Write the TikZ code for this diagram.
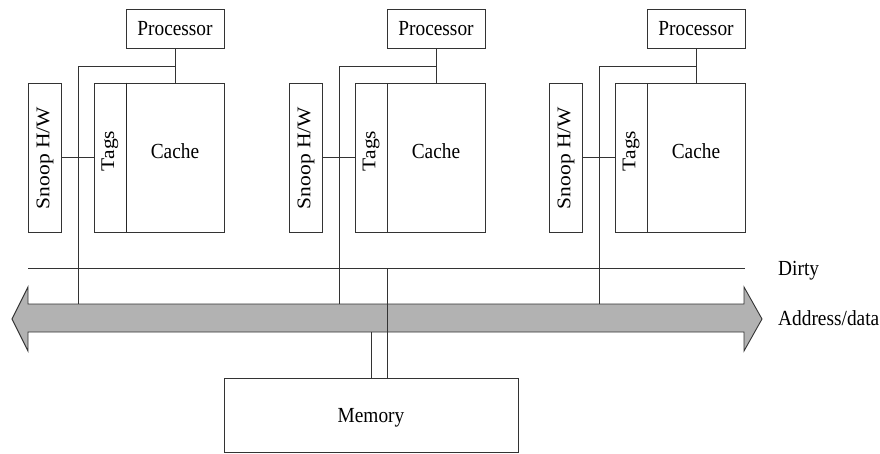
\documentclass[tikz,border=0pt]{standalone}
\usepackage{fontspec}
\setmainfont{Liberation Serif}
\usepackage{graphicx}
\newcommand\hsc[1]{\scalebox{0.9}[1]{#1}}
\newcommand\vsc[1]{\scalebox{1}[0.9]{#1}}
\tikzset{
  box/.style={draw=black!80, line width=0.9pt, fill=white, inner sep=0pt},
  wire/.style={draw=black!80, line width=0.9pt},
  txt/.style={inner sep=0pt, font=\fontsize{21.5}{24}\selectfont, text=black},
  busarrow/.style={draw=black!80, line width=0.9pt, fill=black!30, line join=miter},
}
\begin{document}
\begin{tikzpicture}[x=1pt,y=-1pt]
\useasboundingbox (0,0) rectangle (880,454);

% bus (drawn first so that the crossing wire lies on top)
\draw[busarrow] (12,319) -- (28,287) -- (28,304) -- (744,304) -- (744,287) -- (762,319)
  -- (744,351) -- (744,332) -- (28,332) -- (28,351) -- cycle;

% dirty line
\coordinate (dL) at (28,268);
\coordinate (dR) at (745,268);
\draw[wire] (dL) -- (dR);

\foreach \o/\i in {0/1,261/2,521/3}{
  \node[box, minimum width=98pt, minimum height=39pt] (proc\i) at (175+\o,28.5) {};
  \node[txt] (proclbl\i) at (175+\o,29) {\hsc{Processor}};
  \node[box, minimum width=33pt, minimum height=149pt] (snoop\i) at (44.5+\o,157.5) {};
  \node[txt, rotate=90] (snooplbl\i) at (45+\o,158) {\vsc{Snoop H/W}};
  \node[box, minimum width=32pt, minimum height=149pt] (tags\i) at (110+\o,157.5) {};
  \node[txt, rotate=90] (tagslbl\i) at (110+\o,151) {\vsc{Tags}};
  \node[box, minimum width=98pt, minimum height=149pt] (cache\i) at (175+\o,157.5) {};
  \node[txt] (cachelbl\i) at (175+\o,151) {\hsc{Cache}};
  \coordinate (j\i) at (175+\o,66);
  \coordinate (b\i) at (78+\o,304);
  \draw[wire] (proc\i.south) -- (cache\i.north);
  \draw[wire] (j\i) -| (b\i);
  \draw[wire] (snoop\i.east) -- (tags\i.west);
}
\draw[draw=black!85, line width=1.8pt] (tags1.north east) -- (tags1.south east);

% memory
\node[box, minimum width=294pt, minimum height=74pt] (mem) at (371,415) {};
\node[txt] (memlbl) at (371,418) {\hsc{Memory}};
\coordinate (m1) at (371,332);
\coordinate (m2) at (387,268);
\draw[wire] (m1) -- (m1 |- mem.north);
\draw[wire] (m2) -- (m2 |- mem.north);

% labels
\node[txt, anchor=west] (dirty) at (778,271) {\hsc{Dirty}};
\node[txt, anchor=west] (addr) at (778,318) {\hsc{Address/data}};
\end{tikzpicture}
\end{document}
